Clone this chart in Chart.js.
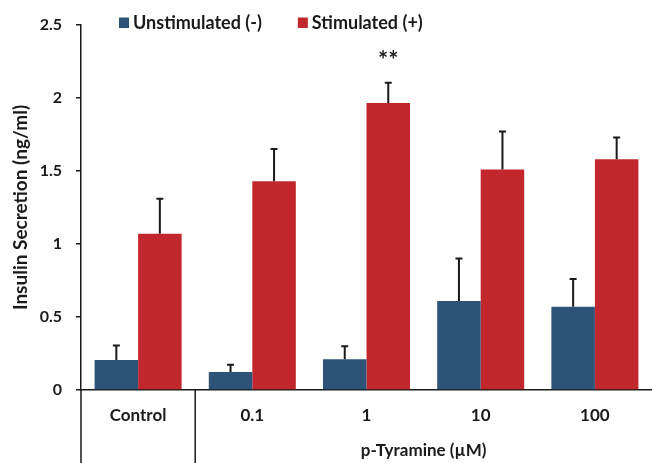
<!DOCTYPE html>
<html>
<head>
<meta charset="utf-8">
<script src="https://cdn.jsdelivr.net/npm/chart.js@4"></script>
<style>
    html, body { margin: 0; padding: 0; background: #fff; }
    #wrap { width: 652px; height: 463px; }
</style>
</head>
<body>
<div id="wrap"><canvas id="insulinChart"></canvas></div>
<script>
// data
const categories = ['Control', '0.1', '1', '10', '100'];
const unstimulated = [0.205, 0.123, 0.21, 0.61, 0.57];
const unstimulatedErr = [0.10, 0.05, 0.09, 0.29, 0.19];
const stimulated = [1.07, 1.43, 1.965, 1.51, 1.58];
const stimulatedErr = [0.24, 0.22, 0.14, 0.26, 0.15];
const stimulatedSig = ['', '', '**', '', ''];
const yTicks = ['0', '0.5', '1', '1.5', '2', '2.5'];
const groupLabel = 'p-Tyramine (µM)';

const FONT = 'Lato';
const INK = '#1a1a1a';

// error bars, significance stars, the bottom grouping lines and the legend
const extrasPlugin = {
    id: 'extras',
    afterDatasetsDraw(chart) {
        const ctx = chart.ctx;
        const y = chart.scales.y;
        ctx.save();
        chart.data.datasets.forEach((ds, i) => {
            const meta = chart.getDatasetMeta(i);
            meta.data.forEach((bar, j) => {
                const top = y.getPixelForValue(ds.data[j] + ds.errors[j]);
                ctx.strokeStyle = INK;
                ctx.lineWidth = 2;
                ctx.beginPath();
                ctx.moveTo(bar.x, bar.y);
                ctx.lineTo(bar.x, top);
                ctx.moveTo(bar.x - 3.5, top);
                ctx.lineTo(bar.x + 3.5, top);
                ctx.stroke();
                if (ds.sig && ds.sig[j]) {
                    ctx.fillStyle = INK;
                    ctx.font = 'bold 24px ' + FONT;
                    ctx.textAlign = 'center';
                    ctx.textBaseline = 'middle';
                    ctx.fillText(ds.sig[j], bar.x, top - 21);
                }
            });
        });
        ctx.restore();
    },
    afterDraw(chart) {
        const ctx = chart.ctx;
        const area = chart.chartArea;
        const x = chart.scales.x;
        const h = chart.height;
        ctx.save();
        ctx.strokeStyle = INK;
        ctx.lineWidth = 1.5;
        ctx.beginPath();
        ctx.moveTo(area.left, area.bottom);
        ctx.lineTo(area.left, h);
        const sep = x.getPixelForValue(0.5);
        ctx.moveTo(sep, area.bottom);
        ctx.lineTo(sep, h);
        ctx.stroke();

        ctx.fillStyle = INK;
        ctx.font = 'bold 17px ' + FONT;
        ctx.textAlign = 'center';
        ctx.textBaseline = 'middle';
        ctx.fillText(groupLabel, x.getPixelForValue(2.5), 451);

        // legend
        let lx = area.left + 38;
        ctx.font = 'bold 18px ' + FONT;
        ctx.textAlign = 'left';
        chart.data.datasets.forEach(ds => {
            ctx.fillStyle = ds.backgroundColor;
            ctx.fillRect(lx, 17.5, 10, 10.5);
            ctx.fillStyle = INK;
            ctx.fillText(ds.label, lx + 14, 23);
            lx += 14 + ctx.measureText(ds.label).width + 36;
        });
        ctx.restore();
    }
};

const ctx = document.getElementById('insulinChart').getContext('2d');
new Chart(ctx, {
    type: 'bar',
    data: {
        labels: categories,
        datasets: [
            {
                label: 'Unstimulated (-)',
                data: unstimulated,
                errors: unstimulatedErr,
                backgroundColor: '#2e5379'
            },
            {
                label: 'Stimulated (+)',
                data: stimulated,
                errors: stimulatedErr,
                sig: stimulatedSig,
                backgroundColor: '#c1272d'
            }
        ]
    },
    options: {
        responsive: true,
        maintainAspectRatio: false,
        animation: false,
        layout: { padding: { top: 25, right: 0, bottom: 0, left: 0 } },
        categoryPercentage: 0.762,
        barPercentage: 1,
        plugins: {
            legend: { display: false },
            tooltip: { enabled: false }
        },
        scales: {
            x: {
                afterFit: s => { s.height = 73; },
                grid: { display: false },
                border: { display: true, color: INK, width: 1.5 },
                ticks: {
                    color: INK,
                    padding: 7,
                    font: { family: FONT, size: 17, weight: 'bold' }
                }
            },
            y: {
                min: 0,
                max: 2.5,
                afterFit: s => { s.width = 81; },
                grid: { drawOnChartArea: false, drawTicks: true, tickLength: 5, color: INK, lineWidth: 1.5 },
                border: { display: true, color: INK, width: 1.5 },
                ticks: {
                    stepSize: 0.5,
                    color: INK,
                    padding: 14,
                    font: { family: FONT, size: 16, weight: 'bold' },
                    callback: (v, i) => yTicks[i]
                },
                title: {
                    display: true,
                    text: 'Insulin Secretion (ng/ml)',
                    color: INK,
                    padding: { top: 9, bottom: 0 },
                    font: { family: FONT, size: 19, weight: 'bold' }
                }
            }
        }
    },
    plugins: [extrasPlugin]
});
</script>
</body>
</html>
